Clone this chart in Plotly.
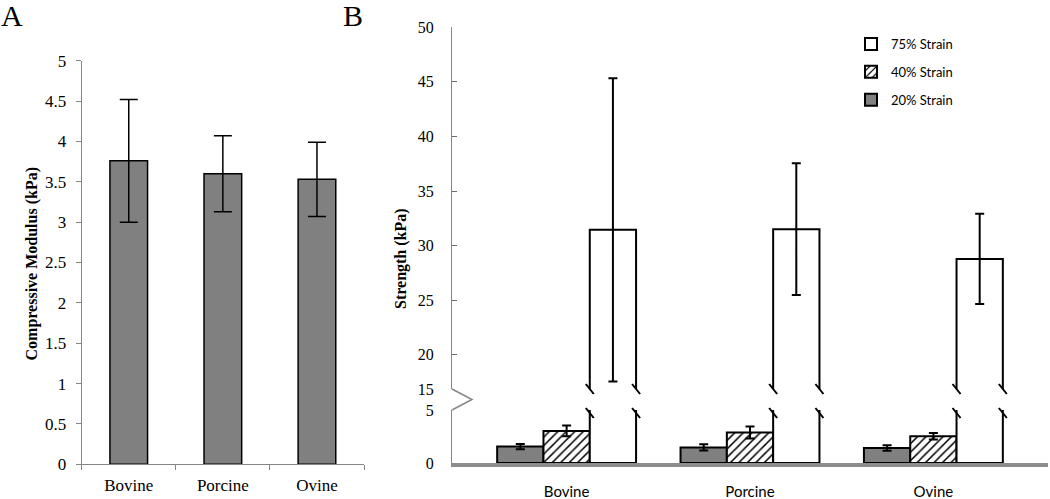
import plotly.graph_objects as go

# ---------------- data ----------------
species = ["Bovine", "Porcine", "Ovine"]

# Panel A: compressive modulus (kPa)
modulus = [3.76, 3.60, 3.53]
modulus_err = [0.76, 0.47, 0.46]
yA_ticks = [0, 0.5, 1, 1.5, 2, 2.5, 3, 3.5, 4, 4.5, 5]

# Panel B: strength (kPa) at three strains
strain_names = ["20% Strain", "40% Strain", "75% Strain"]
strength_20 = [1.55, 1.47, 1.42]
strength_20_err = [0.25, 0.30, 0.26]
strength_40 = [3.03, 2.88, 2.52]
strength_40_err = [0.50, 0.57, 0.30]
strength_75 = [31.44, 31.50, 28.78]
strength_75_err = [13.90, 6.04, 4.14]
yB_upper_ticks = [20, 25, 30, 35, 40, 45, 50]
yB_lower_ticks = [0, 5]

# ---------------- layout helpers ----------------
W, H = 1050, 499
def px(x):
    return x / W
def py(y):
    return 1 - y / H

SERIF = "Liberation Serif"
SANS = "Lato"
AXIS_GRAY = "#868686"
TICK_GRAY = "#6e6e6e"

# Panel B geometry (category spacing fractions)
bar_w = 0.2525
offsets = [-1.5 * bar_w, -0.5 * bar_w, 0.5 * bar_w]
upper_bottom_px, upper_top_px = 389, 27.3
lower_bottom_px, lower_top_px = 463, 410
upper_lo = 20 - (upper_bottom_px - 354.7) / ((354.7 - upper_top_px) / 30)

fig = go.Figure()

# ---------------- Panel A ----------------
fig.add_trace(go.Bar(
    x=species, y=modulus, xaxis="x", yaxis="y",
    marker=dict(color="#808080", line=dict(color="black", width=1.5)),
    error_y=dict(type="data", array=modulus_err, color="black", thickness=1.5, width=9),
    showlegend=False,
))

# ---------------- Panel B ----------------
xB = list(range(len(species)))
series = [
    (strain_names[0], strength_20, strength_20_err,
     dict(color="#808080", line=dict(color="black", width=2)), 3),
    (strain_names[1], strength_40, strength_40_err,
     dict(color="white", line=dict(color="black", width=2),
          pattern=dict(shape="/", fgcolor="black", bgcolor="white", size=6, solidity=0.25)), 2),
    (strain_names[2], strength_75, strength_75_err,
     dict(color="white", line=dict(color="black", width=2)), 1),
]
for yax, show in (("y3", True), ("y2", False)):
    for i, (name, vals, errs, mk, rank) in enumerate(series):
        fig.add_trace(go.Bar(
            x=xB, y=vals, xaxis="x2", yaxis=yax, name=name,
            width=bar_w, offset=offsets[i],
            marker=mk, legendgroup=name, showlegend=show, legendrank=rank,
            error_y=dict(type="data", array=errs, color="black", thickness=2, width=4.5),
        ))

# ---------------- decorations (axis break) ----------------
shapes = []
shapes.append(dict(
    type="path", xref="paper", yref="paper",
    path=f"M {px(452)},{py(upper_bottom_px)} L {px(472)},{py(399.5)} L {px(452)},{py(lower_top_px)}",
    line=dict(color=AXIS_GRAY, width=1.5),
))
for c in xB:
    for edge in (offsets[2], offsets[2] + bar_w):
        for ypix in (upper_bottom_px, lower_top_px + 3):
            shapes.append(dict(
                type="line", xref="x2", yref="paper",
                xsizemode="pixel", xanchor=c + edge, x0=-4, x1=4,
                ysizemode="pixel", yanchor=py(ypix), y0=5, y1=-5,
                line=dict(color="black", width=2),
            ))

annotations = [
    dict(text="A", x=px(12), y=py(15), xref="paper", yref="paper", showarrow=False,
         xanchor="center", yanchor="middle",
         font=dict(family=SERIF, size=30, color="black")),
    dict(text="B", x=px(353), y=py(15), xref="paper", yref="paper", showarrow=False,
         xanchor="center", yanchor="middle",
         font=dict(family=SERIF, size=30, color="black")),
    dict(text="<b>Compressive Modulus (kPa)</b>", x=px(31), y=py(263.5),
         xref="paper", yref="paper", showarrow=False, textangle=-90,
         xanchor="center", yanchor="middle",
         font=dict(family=SERIF, size=16, color="black")),
    dict(text="<b>Strength (kPa)</b>", x=px(401), y=py(259), xref="paper", yref="paper",
         showarrow=False, textangle=-90, xanchor="center", yanchor="middle",
         font=dict(family=SERIF, size=16, color="black")),
]

fig.update_layout(
    width=W, height=H,
    margin=dict(l=0, r=0, t=0, b=0),
    paper_bgcolor="white", plot_bgcolor="white",
    template="none",
    barmode="overlay",
    bargap=0.6,
    shapes=shapes,
    annotations=annotations,
    legend=dict(
        x=px(851), y=py(29), xanchor="left", yanchor="top",
        traceorder="grouped", tracegroupgap=8,
        font=dict(family=SANS, size=13, color="black"),
        bgcolor="rgba(0,0,0,0)",
    ),
    xaxis=dict(
        domain=[px(81.7), px(364)], anchor="y", type="category",
        range=[-0.5, 2.5], tickson="boundaries",
        showline=True, linecolor=AXIS_GRAY, linewidth=1,
        ticks="outside", ticklen=5, tickcolor=AXIS_GRAY,
        showgrid=False, zeroline=False,
        tickfont=dict(family=SERIF, size=17, color="black"),
        ticklabelstandoff=5,
    ),
    yaxis=dict(
        domain=[py(464.3), py(60.7)], anchor="x",
        range=[0, 5], tickvals=yA_ticks, ticktext=[f"{v:g}" for v in yA_ticks],
        showline=True, linecolor=AXIS_GRAY, linewidth=1,
        ticks="outside", ticklen=5, tickcolor=AXIS_GRAY,
        showgrid=False, zeroline=False,
        tickfont=dict(family=SERIF, size=17, color="black"),
        ticklabelstandoff=6,
    ),
    xaxis2=dict(
        domain=[px(452), px(1048)], anchor="y3",
        range=[-0.625, 2.625], tickvals=xB, ticktext=species,
        showline=True, linecolor="#8c8c8c", linewidth=4,
        ticks="", showgrid=False, zeroline=False,
        tickfont=dict(family=SANS, size=15, color="black"),
        ticklabelstandoff=12,
    ),
    yaxis2=dict(
        domain=[py(upper_bottom_px), py(upper_top_px)], anchor="x2",
        range=[upper_lo, 50],
        tickvals=[upper_lo] + yB_upper_ticks,
        ticktext=["15"] + [str(v) for v in yB_upper_ticks],
        showline=True, linecolor=AXIS_GRAY, linewidth=1,
        ticks="inside", ticklen=5, tickcolor=TICK_GRAY,
        showgrid=False, zeroline=False,
        tickfont=dict(family=SERIF, size=16, color="black"),
        ticklabelstandoff=14,
    ),
    yaxis3=dict(
        domain=[py(lower_bottom_px), py(lower_top_px)], anchor="x2",
        range=[0, 5], tickvals=yB_lower_ticks,
        ticktext=[str(v) for v in yB_lower_ticks],
        showline=True, linecolor=AXIS_GRAY, linewidth=1,
        ticks="inside", ticklen=5, tickcolor=TICK_GRAY,
        showgrid=False, zeroline=False,
        tickfont=dict(family=SERIF, size=16, color="black"),
        ticklabelstandoff=14,
    ),
)

fig.write_html(
    "out.html",
    config={"displayModeBar": False},
    post_script="document.body.style.margin='0';document.body.style.overflow='hidden';",
)
